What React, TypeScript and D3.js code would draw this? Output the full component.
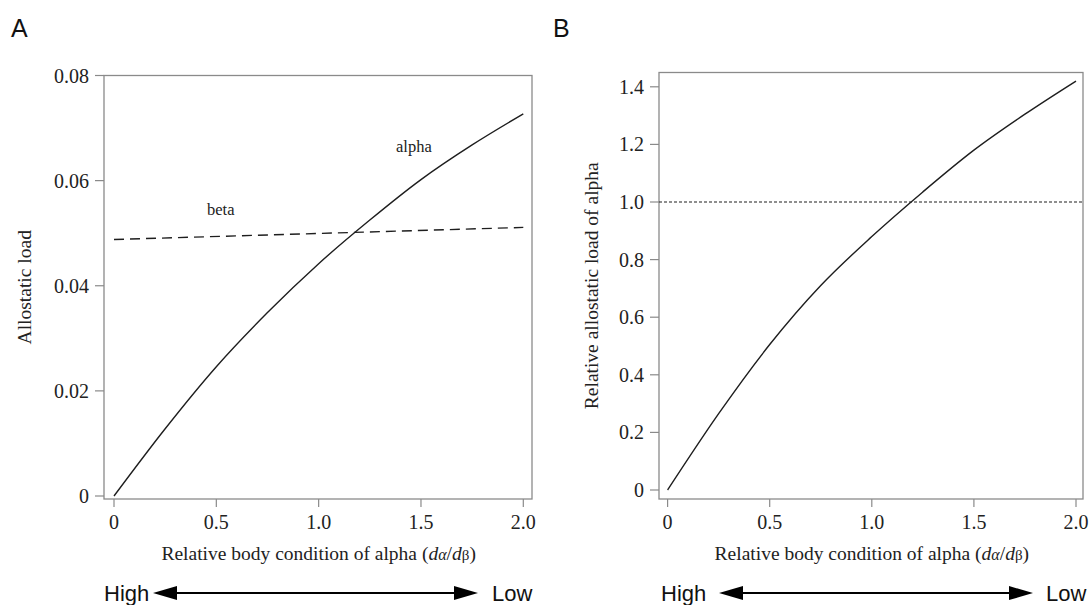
import React from "react";
import * as d3 from "d3";

// ---- Data ----
const dGrid = [0, 0.25, 0.5, 0.75, 1.0, 1.25, 1.5, 1.75, 2.0];
const alphaLoad = [0, 0.0128, 0.0246, 0.0349, 0.0442, 0.0525, 0.0602, 0.0668, 0.0727];
const betaD = [0, 2.0];
const betaLoad = [0.0488, 0.0511];
const relativeLoad = [0, 0.265, 0.505, 0.71, 0.88, 1.035, 1.18, 1.305, 1.42];
const refLine = 1.0;

const xTicks = [0, 0.5, 1.0, 1.5, 2.0];
const xTickLabels = ["0", "0.5", "1.0", "1.5", "2.0"];
const yTicksA = [0, 0.02, 0.04, 0.06, 0.08];
const yTickLabelsA = ["0", "0.02", "0.04", "0.06", "0.08"];
const yTicksB = [0, 0.2, 0.4, 0.6, 0.8, 1.0, 1.2, 1.4];
const yTickLabelsB = ["0", "0.2", "0.4", "0.6", "0.8", "1.0", "1.2", "1.4"];

const SERIF = "'Liberation Serif', 'Times New Roman', serif";
const SANS = "'Liberation Sans', Arial, sans-serif";
const BOX = "#8a8a8a";
const INK = "#1e1e1e";
const TXT = "#222";

type Box = { l: number; r: number; t: number; b: number };

function Arrow({ x1, x2, y }: { x1: number; x2: number; y: number }) {
  const hl = 24, hw = 7;
  return (
    <g fill="#000" stroke="#000">
      <line x1={x1 + hl - 2} x2={x2 - hl + 2} y1={y} y2={y} strokeWidth={2.2} />
      <path d={`M${x1},${y} L${x1 + hl},${y - hw} L${x1 + hl},${y + hw} Z`} stroke="none" />
      <path d={`M${x2},${y} L${x2 - hl},${y - hw} L${x2 - hl},${y + hw} Z`} stroke="none" />
    </g>
  );
}

function Panel({
  box, x, y, yTicks, yLabels, yTitle, yTitleX, letter, letterX, arrow, children,
}: {
  box: Box;
  x: d3.ScaleLinear<number, number>;
  y: d3.ScaleLinear<number, number>;
  yTicks: number[];
  yLabels: string[];
  yTitle: string;
  yTitleX: number;
  letter: string;
  letterX: number;
  arrow: { hx: number; ax1: number; ax2: number; lx: number };
  children: React.ReactNode;
}) {
  const cx = (x(0) + x(2)) / 2;
  const cy = (box.t + box.b) / 2;
  return (
    <g>
      <text x={letterX} y={37} fontFamily={SANS} fontSize={25} fill="#111">{letter}</text>
      <rect x={box.l} y={box.t} width={box.r - box.l} height={box.b - box.t} fill="none" stroke={BOX} strokeWidth={1.3} />
      {xTicks.map((t, i) => (
        <g key={"x" + i}>
          <line x1={x(t)} x2={x(t)} y1={box.b} y2={box.b + 8} stroke={BOX} strokeWidth={1.2} />
          <text x={x(t)} y={529} textAnchor="middle" fontFamily={SERIF} fontSize={20} fill={TXT}>{xTickLabels[i]}</text>
        </g>
      ))}
      {yTicks.map((t, i) => (
        <g key={"y" + i}>
          <line x1={box.l - 9} x2={box.l} y1={y(t)} y2={y(t)} stroke={BOX} strokeWidth={1.2} />
          <text x={box.l - 15} y={y(t)} dy="0.35em" textAnchor="end" fontFamily={SERIF} fontSize={20} fill={TXT}>{yLabels[i]}</text>
        </g>
      ))}
      <text x={cx} y={560} textAnchor="middle" fontFamily={SERIF} fontSize={19.5} fill={TXT}>
        Relative body condition of alpha (<tspan fontStyle="italic">d</tspan><tspan fontStyle="italic" fontSize={16}>α</tspan>/<tspan fontStyle="italic">d</tspan><tspan fontSize={15}>β</tspan>)
      </text>
      <text transform={`translate(${yTitleX},${cy}) rotate(-90)`} textAnchor="middle" fontFamily={SERIF} fontSize={19.5} fill={TXT}>{yTitle}</text>
      {children}
      <text x={arrow.hx} y={601} fontFamily={SANS} fontSize={22} fill="#111">High</text>
      <Arrow x1={arrow.ax1} x2={arrow.ax2} y={593} />
      <text x={arrow.lx} y={601} fontFamily={SANS} fontSize={22} fill="#111">Low</text>
    </g>
  );
}

export default function App() {
  const boxA: Box = { l: 104, r: 532, t: 75.5, b: 499 };
  const xA = d3.scaleLinear().domain([0, 2]).range([114, 523.3]);
  const yA = d3.scaleLinear().domain([0, 0.08]).range([496, 75.5]);

  const boxB: Box = { l: 659, r: 1083, t: 72.5, b: 499 };
  const xB = d3.scaleLinear().domain([0, 2]).range([667.6, 1076]);
  const yB = d3.scaleLinear().domain([0, 1.4]).range([490, 86.8]);

  const lineA = d3.line<number>().x((_, i) => xA(dGrid[i])).y((v) => yA(v)).curve(d3.curveMonotoneX);
  const lineBeta = d3.line<number>().x((_, i) => xA(betaD[i])).y((v) => yA(v));
  const lineB = d3.line<number>().x((_, i) => xB(dGrid[i])).y((v) => yB(v)).curve(d3.curveMonotoneX);

  return (
    <svg width={1090} height={605} style={{ position: "absolute", left: 0, top: 0, background: "#fff" }}>
      <rect width={1090} height={605} fill="#fff" />
      <Panel box={boxA} x={xA} y={yA} yTicks={yTicksA} yLabels={yTickLabelsA} yTitle="Allostatic load" yTitleX={31} letter="A" letterX={11}
        arrow={{ hx: 104, ax1: 153, ax2: 478, lx: 492 }}>
        <path d={lineA(alphaLoad) || ""} fill="none" stroke={INK} strokeWidth={1.4} />
        <path d={lineBeta(betaLoad) || ""} fill="none" stroke={INK} strokeWidth={1.4} strokeDasharray="10,6" />
        <text x={396} y={152} fontFamily={SERIF} fontSize={16.5} fill={TXT}>alpha</text>
        <text x={207} y={215} fontFamily={SERIF} fontSize={16.5} fill={TXT}>beta</text>
      </Panel>
      <Panel box={boxB} x={xB} y={yB} yTicks={yTicksB} yLabels={yTickLabelsB} yTitle="Relative allostatic load of alpha" yTitleX={598} letter="B" letterX={553}
        arrow={{ hx: 661, ax1: 719, ax2: 1033, lx: 1046 }}>
        <line x1={boxB.l} x2={boxB.r} y1={yB(refLine)} y2={yB(refLine)} stroke={INK} strokeWidth={1.2} strokeDasharray="3,2" />
        <path d={lineB(relativeLoad) || ""} fill="none" stroke={INK} strokeWidth={1.4} />
      </Panel>
    </svg>
  );
}
